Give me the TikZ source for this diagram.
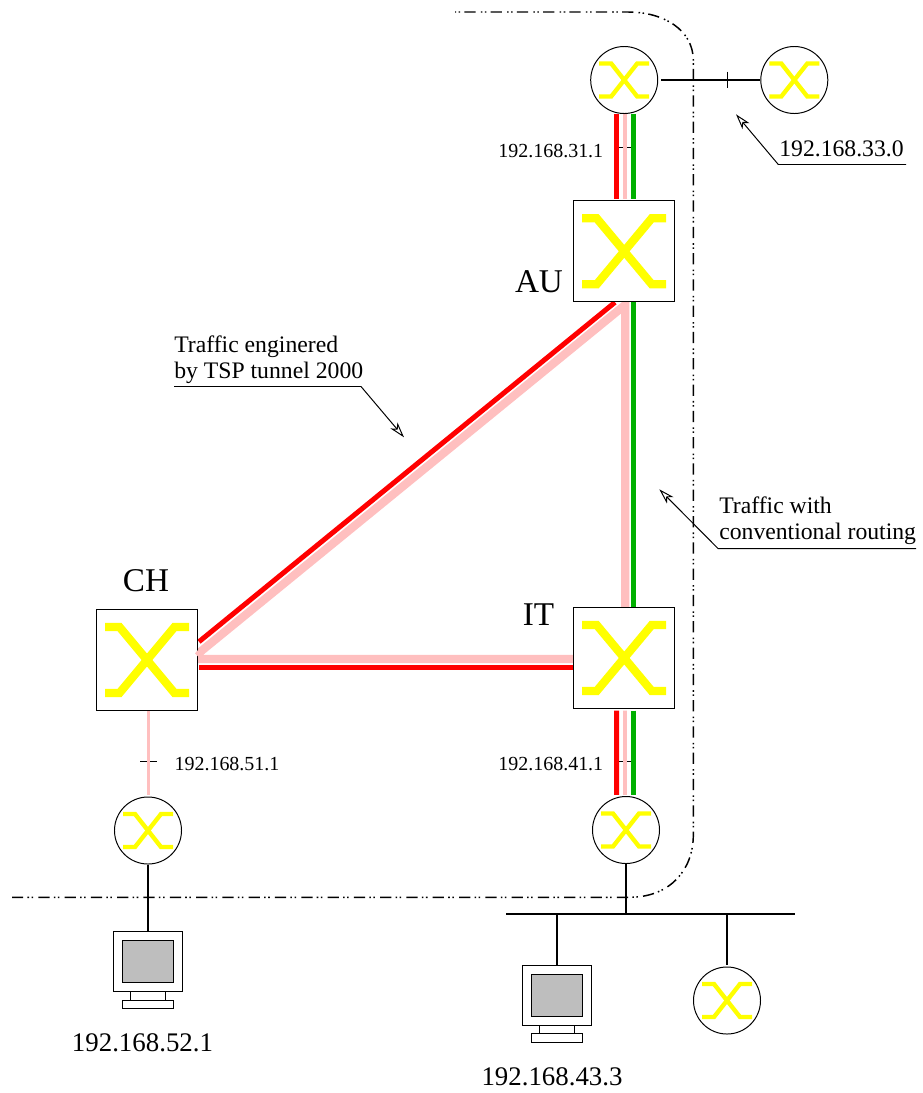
\documentclass[tikz,border=0pt]{standalone}
\usepackage{fontspec}
\setmainfont{Liberation Serif}
\usepackage{tikz}
\usetikzlibrary{arrows.meta,calc,backgrounds}
\usepackage{xcolor}
\definecolor{tunnelpink}{HTML}{FFBFBF}
\definecolor{routegreen}{HTML}{00B000}
\definecolor{routered}{HTML}{FF0000}
\definecolor{crossyellow}{HTML}{FFFF00}
\definecolor{screengray}{HTML}{BEBEBE}

\begin{document}
\begin{tikzpicture}[x=0.025cm,y=-0.025cm,line cap=butt,
  >={Stealth[open,length=11pt,width=6.5pt,inset=3pt]},
  switchbox/.style={draw=black,fill=white,line width=0.7pt,minimum size=2.525cm,inner sep=0pt},
  routerball/.style={circle,draw=black,fill=white,line width=0.7pt,minimum size=1.675cm,inner sep=0pt},
  monitorbox/.style={draw=black,fill=white,line width=0.7pt,minimum width=1.715cm,minimum height=1.5cm,inner sep=0pt},
  wire/.style={line width=1.2pt},
  thinwire/.style={line width=0.7pt},
  border/.style={line width=1.05pt,dash pattern=on 8pt off 3pt on 1.1pt off 1.8pt on 1.1pt off 3.7pt},
  redlink/.style={routered,line width=3.55pt},
  greenlink/.style={routegreen,line width=3.55pt},
  pinklink/.style={tunnelpink,line width=2.5pt},
  pinktunnel/.style={tunnelpink,line width=5.9pt},
  txtsmall/.style={anchor=base,inner sep=0pt,font=\fontsize{14.2}{16}\selectfont},
  txtnote/.style={anchor=base west,inner sep=0pt,align=left,font=\fontsize{16.85}{18.5}\selectfont},
  txtaddr/.style={anchor=base,inner sep=0pt,font=\fontsize{19.1}{22}\selectfont},
  txtname/.style={anchor=base,inner sep=0pt,font=\fontsize{23.6}{26}\selectfont},
  bigcross/.pic={
    \draw[crossyellow,line width=5.9pt] (-42,-33) -- (-27.5,-33) -- (27.5,33) -- (42,33);
    \draw[crossyellow,line width=5.9pt] (-42,33) -- (-27.5,33) -- (27.5,-33) -- (42,-33);
  },
  smallcross/.pic={
    \draw[crossyellow,line width=3.1pt] (-25,-16.5) -- (-13,-16.5) -- (13,16.5) -- (25,16.5);
    \draw[crossyellow,line width=3.1pt] (-25,16.5) -- (-13,16.5) -- (13,-16.5) -- (25,-16.5);
  },
  monitorparts/.pic={
    \draw[line width=0.7pt,fill=screengray] (-25.7,-21.3) rectangle (25.7,21);
    \draw[line width=0.7pt] (-17.2,30) rectangle (17.2,38.4);
    \draw[line width=0.7pt] (-25.7,38.4) rectangle (25.7,47);
  }]
\useasboundingbox (0,0) rectangle (922,1093);
\draw[border] (12,897.3) -- (630,897.3) .. controls (670,897) and (693.3,870) .. (693.3,835)
  -- (693.3,60) .. controls (693,30) and (664,12) .. (628,12) -- (455,12);
\node[switchbox] (au) at (624.2,251.3) {};
\node[switchbox] (ch) at (147,660) {};
\node[switchbox] (it) at (624.2,658) {};
\node[routerball] (r31) at (624.2,80) {};
\node[routerball] (r33) at (794.3,80) {};
\node[routerball] (r41) at (626,830) {};
\node[routerball] (r51) at (148,830.5) {};
\node[routerball] (r43) at (727,1000.5) {};
\node[monitorbox] (pc52) at (148,961.7) {};
\node[monitorbox] (pc43) at (557,995.3) {};
\foreach \n in {au,ch,it} \pic at (\n) {bigcross};
\foreach \n in {r31,r33,r41,r51,r43} \pic at (\n) {smallcross};
\foreach \n in {pc52,pc43} \pic at (\n) {monitorparts};
\begin{pgfonlayer}{background}
\draw[thinwire] (617,147.7) -- (633,147.7);
\draw[thinwire] (617,761) -- (633,761);
\draw[thinwire] (140,761) -- (157,761);
\draw[redlink] ($(r31.south)+(-7.5,0)$) -- ($(au.north)+(-7.5,-1.7)$);
\draw[pinklink] ($(r31.south)+(0.8,0)$) -- ($(au.north)+(0.8,-1.7)$);
\draw[greenlink] ($(r31.south)+(9,0)$) -- ($(au.north)+(9,-1.7)$);
\draw[redlink] ($(it.south)+(-7.5,1.7)$) -- ($(r41.north)+(-9.3,-1.2)$);
\draw[pinklink] ($(it.south)+(0.8,1.7)$) -- ($(r41.north)+(-1,-1.2)$);
\draw[greenlink] ($(it.south)+(9,1.7)$) -- ($(r41.north)+(7.2,-1.2)$);
\draw[greenlink] ($(au.south)+(9,0)$) -- ($(it.north)+(9,0)$);
\draw[redlink] ($(ch.east)+(1,-18.3)$) -- ($(au.south)+(-9.2,0)$);
\draw[redlink] ($(ch.east)+(1,7.3)$) -- ($(it.west)+(0,9.3)$);
\draw[pinktunnel] ($(it.north)+(1,1)$) -- ($(au.south)+(1,2.5)$) -- ($(ch.east)+(-6.5,-1)$) -- ($(it.west)+(0,1)$);
\end{pgfonlayer}
\fill[tunnelpink] (195,653.3) -- (199,649) -- (199,657.5) -- cycle;
\draw[pinklink] ($(ch.south)+(1.3,0)$) -- ($(r51.north)+(0.3,-1.2)$);
\draw[wire,shorten <=2pt] (r31.east) -- (r33.west);
\draw[thinwire] (727.3,71.7) -- (727.3,88.3);
\coordinate (busleft) at (506,914);
\coordinate (busright) at (795.3,914);
\draw[wire] (busleft) -- (busright);
\draw[wire] (r51.south) -- (pc52.north);
\draw[wire] (r41.south) -- (r41.south |- busleft);
\draw[wire] (pc43.north) -- (pc43.north |- busleft);
\draw[wire,shorten <=1.3pt] (r43.north) -- (r43.north |- busleft);
\coordinate (tip33) at (736,114.3);
\coordinate (tipeng) at (404,437.3);
\coordinate (tipconv) at (659.3,489.3);
\draw[thinwire,->] (906,164.5) -- (778.3,164.5) -- (tip33);
\draw[thinwire,->] (174,386.5) -- (361,386.5) -- (tipeng);
\draw[thinwire,->] (916,548.5) -- (718,548.5) -- (tipconv);
\node[txtsmall] (t31) at (550.8,157.3) {192.168.31.1};
\node[txtsmall] (t41) at (550.8,770) {192.168.41.1};
\node[txtsmall] (t51) at (227,770) {192.168.51.1};
\node[txtnote,anchor=base] (t33) at (841.5,156.7) {192.168.33.0};
\node[txtnote] (teng1) at (174,352.3) {Traffic enginered};
\node[txtnote] (teng2) at (174,378.3) {by TSP tunnel 2000};
\node[txtnote] (tconv1) at (719,513) {Traffic with};
\node[txtnote] (tconv2) at (719,539) {conventional routing};
\node[txtaddr] (t52) at (142.5,1051) {192.168.52.1};
\node[txtaddr] (t43) at (552,1085) {192.168.43.3};
\node[txtname] (lau) at (539,292.7) {AU};
\node[txtname] (lch) at (146,591) {CH};
\node[txtname] (lit) at (538.5,625) {IT};
\end{tikzpicture}
\end{document}
